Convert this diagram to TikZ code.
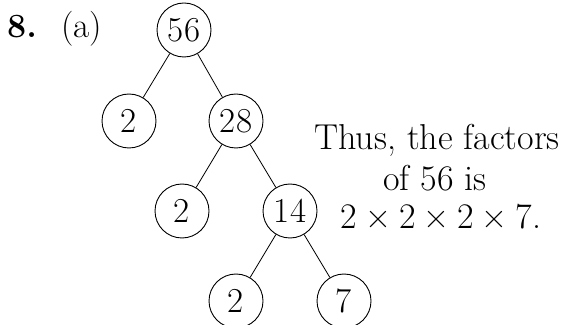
\documentclass[tikz,border=0pt]{standalone}
\usepackage{fontspec}
\setmainfont{Latin Modern Roman}
\newcommand{\tms}{\hspace{0.22em}×\hspace{0.22em}}
\begin{document}
\begin{tikzpicture}[x=1pt,y=1pt,
  fnode/.style={circle,draw,line width=0.9pt,minimum size=54pt,inner sep=0pt,font=\fontsize{35}{35}\selectfont},
  edge/.style={line width=0.8pt},
  txt/.style={anchor=base,inner sep=0pt,font=\fontsize{36}{39}\selectfont}]
\useasboundingbox (0,0) rectangle (562,324);
\node[anchor=base west,inner sep=0pt,font=\fontsize{34}{34}\selectfont\bfseries] (num) at (7,324-38) {8.};
\node[anchor=base west,inner sep=0pt,font=\fontsize{35}{35}\selectfont] (lab) at (61,324-38) {(a)};
\node[fnode] (n56) at (184,324-30) {56};
\node[fnode] (a2) at (129,324-121) {2};
\node[fnode] (n28) at (236,324-121) {28};
\node[fnode] (b2) at (182,324-211) {2};
\node[fnode] (n14) at (290,324-211) {14};
\node[fnode] (c2) at (236,324-301) {2};
\node[fnode] (n7) at (344,324-301) {7};
\draw[edge] (n56) -- (a2);
\draw[edge] (n56) -- (n28);
\draw[edge] (n28) -- (b2);
\draw[edge] (n28) -- (n14);
\draw[edge] (n14) -- (c2);
\draw[edge] (n14) -- (n7);
\node[txt] (t1) at (437,324-150) {Thus, the factors};
\node[txt] (t2) at (435,324-191) {of 56 is};
\node[txt] (t3) at (441,324-229) {2\tms2\tms2\tms7.};
\end{tikzpicture}
\end{document}
